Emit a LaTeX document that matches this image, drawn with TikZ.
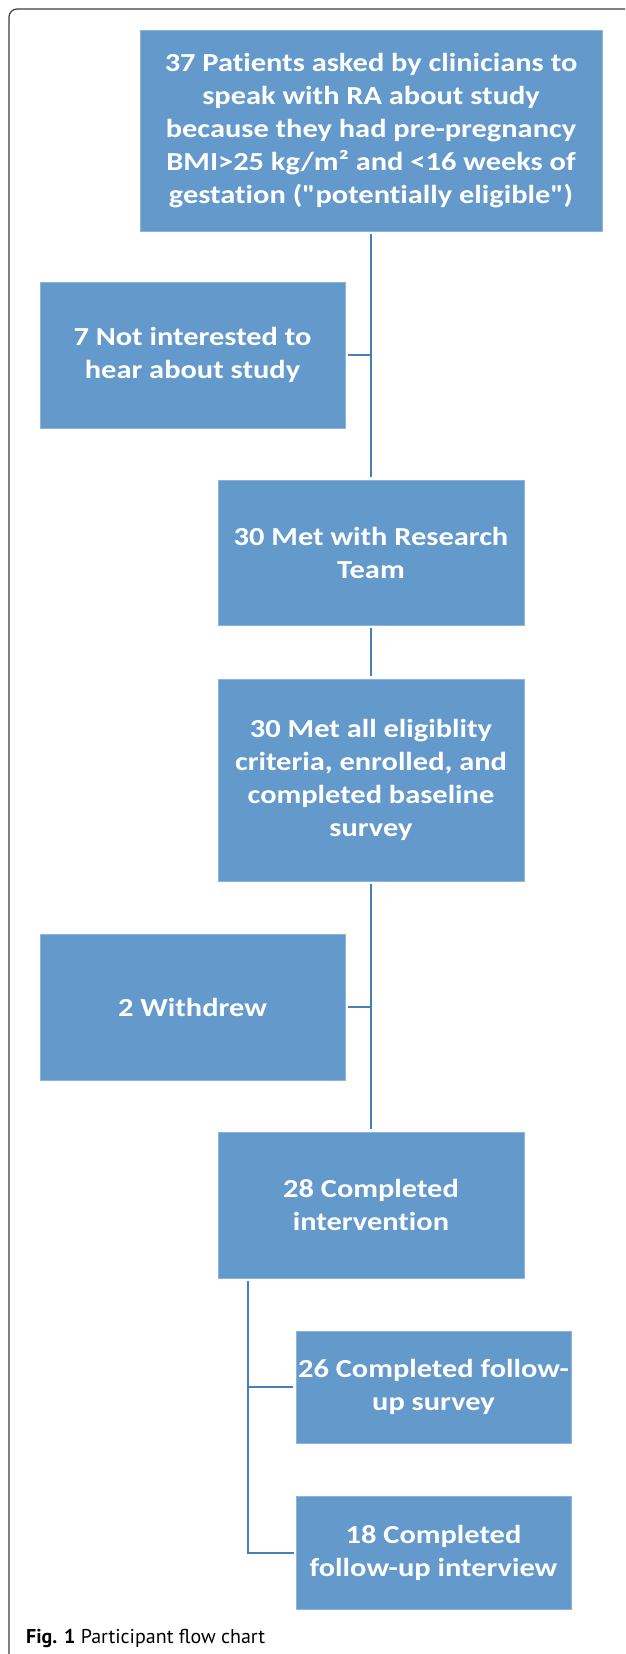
\documentclass[tikz,border=0pt]{standalone}
\usepackage{fontspec}
\usepackage{tikz}
\usetikzlibrary{positioning, calc}
\newfontfamily\boxfont{Carlito}[FakeStretch=1.17, Ligatures=NoCommon]
\newfontfamily\capfont{PT Sans}
\definecolor{flowblue}{RGB}{99, 153, 203}
\definecolor{flowedge}{RGB}{140, 180, 220}
\definecolor{linkblue}{RGB}{74, 126, 186}
\definecolor{framegray}{RGB}{60, 60, 60}
\tikzset{
  flowbox/.style 2 args={
    rectangle, minimum width=#1pt, minimum height=#2pt,
    inner sep=0pt, align=center, text=white,
    font=\boxfont\bfseries\fontsize{26}{33}\selectfont,
    fill=flowblue, draw=flowedge, line width=0.6pt
  },
  link/.style={line width=2pt, color=linkblue, shorten <=3pt, shorten >=3pt},
}

\begin{document}
\begin{tikzpicture}[x=1pt, y=-1pt]
\useasboundingbox (0,0) rectangle (625,1654);

% ── Frame ─────────────────────────────────────────────────
\draw[framegray, line width=1.2pt, rounded corners=8pt] (9,1654) -- (9,9) -- (625,9);

% ── Main Spine ────────────────────────────────────────────
\node[flowbox={462}{201}] (asked)    at (371, 130.5) {37 Patients asked by clinicians to\\speak with RA about study\\because they had pre-pregnancy\\BMI>25 kg/m² and <16 weeks of\\gestation ("potentially eligible")};
\node[flowbox={306}{145}] (met)      at (371, 552.5) {30 Met with Research\\Team};
\node[flowbox={306}{202}] (enrolled) at (371, 780)   {30 Met all eligiblity\\criteria, enrolled, and\\completed baseline\\survey};
\node[flowbox={306}{146}] (done)     at (371, 1205)  {28 Completed\\intervention};

% ── Exclusions ────────────────────────────────────────────
\node[flowbox={305}{146}] (notint)   at (192.5, 355)  {7 Not interested to\\hear about study};
\node[flowbox={305}{146}] (withdrew) at (192.5, 1007) {2 Withdrew};

% ── Follow-up ─────────────────────────────────────────────
\node[flowbox={275}{112}] (survey)    at (433.5, 1387)   {26 Completed follow-\\up survey};
\node[flowbox={275}{113}] (interview) at (433.5, 1552.5) {18 Completed\\follow-up interview};

% ── Caption ───────────────────────────────────────────────
\node[anchor=base west, inner sep=0pt, font=\capfont\fontsize{20}{24}\selectfont] (caption) at (26, 1643)
  {\textbf{Fig. 1} Participant flow chart};

% ── Arrows: Spine ─────────────────────────────────────────
\draw[link] (asked)    -- (met);
\draw[link] (met)      -- (enrolled);
\draw[link] (enrolled) -- (done);

% ── Arrows: Exclusions ────────────────────────────────────
\draw[link, shorten >=0pt] (notint.east)   -- (notint.east -| asked.south);
\draw[link, shorten >=0pt] (withdrew.east) -- (withdrew.east -| asked.south);

% ── Arrows: Follow-up Bracket ─────────────────────────────
\coordinate (fork) at ([xshift=30pt]done.south west);
\draw[link, line cap=rect, shorten <=4pt] (fork) |- (interview.west);
\draw[link, shorten <=0pt] (survey.west -| fork) -- (survey.west);

\end{tikzpicture}
\end{document}
